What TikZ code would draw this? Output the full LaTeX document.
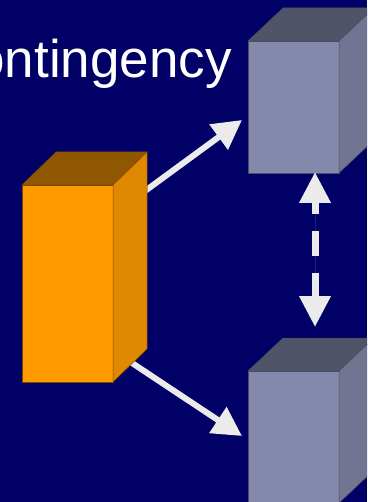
\documentclass[tikz,border=0pt]{standalone}
\usepackage{fontspec}
\setmainfont{Liberation Sans}
\usetikzlibrary{arrows.meta}

\definecolor{slidebg}{HTML}{000066}
\definecolor{arrowwhite}{HTML}{EBEBEB}
\definecolor{orangefront}{HTML}{FF9900}
\definecolor{orangeside}{HTML}{E08800}
\definecolor{orangetop}{HTML}{8F5700}
\definecolor{orangeedge}{HTML}{7A4A00}
\definecolor{grayfront}{HTML}{8489AB}
\definecolor{grayside}{HTML}{717592}
\definecolor{graytop}{HTML}{505468}
\definecolor{grayedge}{HTML}{4A4E64}

\begin{document}
\begin{tikzpicture}[x=1pt,y=-1pt,
    face/.style={line width=0.5pt},
    frontface/.style={face,rectangle,inner sep=0pt,outer sep=0pt},
    flow/.style={draw=arrowwhite,fill=arrowwhite,line width=6pt,
        -{Triangle[length=29pt,width=30pt]}},
    swap/.style={draw=arrowwhite,fill=arrowwhite,line width=7pt,
        dash pattern=on 25pt off 17pt,dash phase=12pt,
        {Triangle[length=31pt,width=30pt]}-{Triangle[length=31pt,width=30pt]}}]

% Background
\fill[slidebg] (0,0) rectangle (367,502);
\useasboundingbox (0,0) rectangle (367,502);
\clip (0,0) rectangle (367,502);

% Title
\node[anchor=base east,inner sep=0pt,text=white,
    font=\fontsize{53}{60}\selectfont] (title) at (232,78) {Contingency};

% Front faces
\node[frontface,fill=orangefront,draw=orangeedge,
    minimum width=91pt,minimum height=197pt] (src) at (67.5,283.5) {};
\foreach \n/\y in {dstA/107,dstB/437}{
    \node[frontface,fill=grayfront,draw=grayedge,
        minimum width=91pt,minimum height=132pt] (\n) at (293.5,\y) {};
}

% Arrows (tails hidden under the source box)
\draw[flow] ([xshift=17pt,yshift=-17pt]src.north east)
    -- ([xshift=-6pt,yshift=-13pt]dstA.west);
\draw[flow] ([xshift=7pt,yshift=27pt]src.south east)
    -- ([xshift=-6pt,yshift=1pt]dstB.west);
\draw[swap,shorten >=44pt] ([xshift=21.5pt,yshift=1pt]dstA.south)
    -- ([xshift=21.5pt]dstB.north);

% Source box, top and side
\filldraw[face,fill=orangetop,draw=orangeedge]
    (src.north west) -- ++(34,-33) -- ++(91,0) -- (src.north east) -- cycle;
\filldraw[face,fill=orangeside,draw=orangeedge]
    (src.north east) -- ++(34,-33) -- ++(0,197) -- (src.south east) -- cycle;

% Target boxes, top and side
\foreach \n in {dstA,dstB}{
    \filldraw[face,fill=graytop,draw=grayedge]
        (\n.north west) -- ++(35,-33) -- ++(91,0) -- (\n.north east) -- cycle;
    \filldraw[face,fill=grayside,draw=grayedge]
        (\n.north east) -- ++(35,-33) -- ++(0,132) -- (\n.south east) -- cycle;
}

\end{tikzpicture}
\end{document}
